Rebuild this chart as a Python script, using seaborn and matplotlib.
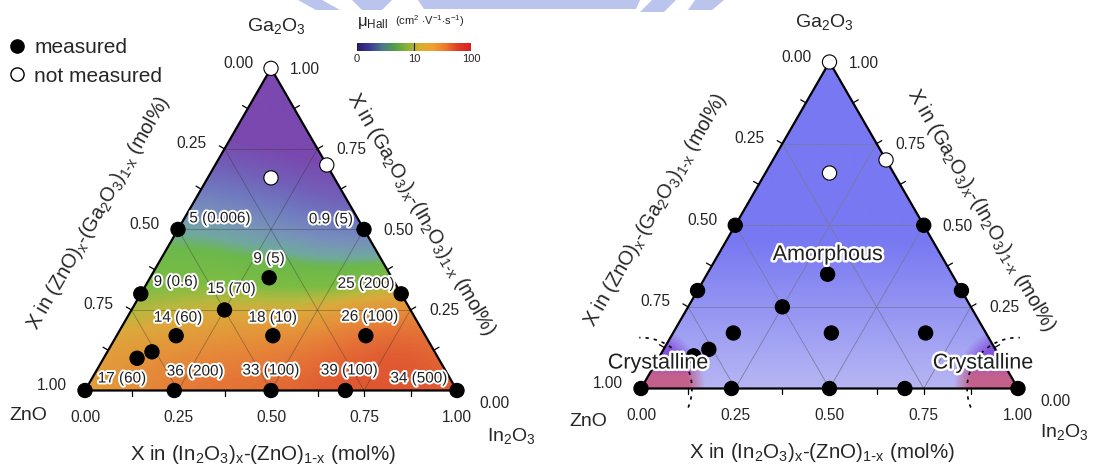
import numpy as np
import pandas as pd
import matplotlib
matplotlib.use("Agg")
import matplotlib.pyplot as plt
import matplotlib.patheffects as pe
from matplotlib.colors import LinearSegmentedColormap, Normalize, to_rgb
from matplotlib.patches import Polygon
from matplotlib.lines import Line2D
import seaborn as sns

sns.set_theme(style="white")
plt.rcParams["font.family"] = ["Liberation Sans", "DejaVu Sans"]
plt.rcParams["mathtext.default"] = "regular"

# compositions (mole fractions), ZnO = 1 - In2O3 - Ga2O3
meas_in = [0.00, 0.50, 0.32, 0.00, 0.70, 0.25, 0.16, 0.42, 0.67, 0.12, 0.09, 0.00, 0.24, 0.50, 0.70, 1.00]
meas_ga = [0.50, 0.50, 0.35, 0.30, 0.30, 0.25, 0.17, 0.17, 0.17, 0.12, 0.10, 0.00, 0.00, 0.00, 0.00, 0.00]
# Hall mobility (cm2/Vs) and value in brackets, None = no label
mobility = [5, 0.9, 9, 9, 25, 15, 14, 18, 26, None, None, 17, 36, 33, 39, 34]
bracket = ["0.006", "5", "5", "0.6", "200", "70", "60", "10", "100", None, None, "60", "200", "100", "100", "500"]

unmeas_in = [0.00, 0.17, 0.30]
unmeas_ga = [1.00, 0.66, 0.70]

tick_vals = [0.00, 0.25, 0.50, 0.75, 1.00]
cbar_ticks = ["0", "10", "100"]

W, H = 1093, 465
S3 = np.sqrt(3) / 2
PT = 0.72  # points per pixel at dpi 100


def to_xy(a_in, a_ga):
    a_in = np.asarray(a_in, float)
    a_ga = np.asarray(a_ga, float)
    return a_in + a_ga / 2, a_ga * S3


def setup(ax, ox, oy, side, x0, x1):
    ax.set_position([x0 / W, 0, (x1 - x0) / W, 1])
    ax.set_xlim((x0 - ox) / side, (x1 - ox) / side)
    ax.set_ylim((oy - H) / side, oy / side)
    ax.axis("off")


def px(dx, dy):
    # pixel offset (y down) -> offset points (y up)
    return (dx * PT, -dy * PT)


def frame(ax, side, grid_color, grid_alpha):
    for f in [0.25, 0.5, 0.75]:
        for a, b in [((0, f), (1 - f, f)), ((f, 0), (f, 1 - f)), ((0, 1 - f), (1 - f, 0))]:
            x, y = to_xy([a[0], b[0]], [a[1], b[1]])
            ax.plot(x, y, color=grid_color, lw=0.7, alpha=grid_alpha, zorder=2)
    tx, ty = to_xy([0, 1, 0, 0], [0, 0, 1, 0])
    ax.plot(tx, ty, color="black", lw=1.6, zorder=3, solid_joinstyle="miter")
    L = 6 / side
    for f in np.arange(0.125, 1.0, 0.125):
        for (qx, qy), (nx, ny) in [
            (to_xy(f, 0), (0, -1)),
            (to_xy(0, f), (-S3, 0.5)),
            (to_xy(1 - f, f), (S3, 0.5)),
        ]:
            ax.plot([qx, qx + nx * L], [qy, qy + ny * L], color="black", lw=0.9, zorder=3)


def tick_labels(ax, ga_off, zn_off, in_off):
    kw = dict(textcoords="offset points", fontsize=11.2, va="center")
    for v in tick_vals:
        ax.annotate(f"{v:.2f}", to_xy(v, 0), xytext=px(0, 27), ha="center", **kw)
        ax.annotate(f"{v:.2f}", to_xy(0, 1 - v), xytext=px(-18, -5), ha="right", **kw)
        off = px(22, 13) if v == 0 else px(19, 1)
        ax.annotate(f"{v:.2f}", to_xy(1 - v, v), xytext=off, ha="left", **kw)
    kw2 = dict(textcoords="offset points", fontsize=14, ha="center", va="center")
    ax.annotate(r"Ga$_2$O$_3$", to_xy(0, 1), xytext=px(*ga_off), **kw2)
    ax.annotate("ZnO", to_xy(0, 0), xytext=px(*zn_off), **kw2)
    ax.annotate(r"In$_2$O$_3$", to_xy(1, 0), xytext=px(*in_off), **kw2)
    kw3 = dict(ha="center", va="center", rotation_mode="anchor", textcoords="offset points")
    ax.annotate(r"X in (In$_2$O$_3$)$_x$-(ZnO)$_{1\text{-}x}$ (mol%)", (0.5, 0),
                xytext=px(-8, 64), fontsize=14.8, **kw3)
    ax.annotate(r"X in (ZnO)$_x$-(Ga$_2$O$_3$)$_{1\text{-}x}$ (mol%)", to_xy(0, 0.43),
                xytext=px(-0.866 * 77, -0.5 * 77), rotation=60, fontsize=14.2, **kw3)
    ax.annotate(r"X in (Ga$_2$O$_3$)$_x$-(In$_2$O$_3$)$_{1\text{-}x}$ (mol%)", to_xy(0.54, 0.46),
                xytext=px(0.866 * 57, -0.5 * 57), rotation=-60, fontsize=14.2, **kw3)


def points(ax):
    rows = []
    for i, g in zip(meas_in, meas_ga):
        x, y = to_xy(i, g)
        rows.append(dict(x=x, y=y, status="measured"))
    for i, g in zip(unmeas_in, unmeas_ga):
        x, y = to_xy(i, g)
        rows.append(dict(x=x, y=y, status="not measured"))
    df = pd.DataFrame(rows)
    sns.scatterplot(data=df, x="x", y="y", hue="status",
                    palette={"measured": "black", "not measured": "white"},
                    edgecolor="black", linewidth=0.8, s=105, legend=False,
                    ax=ax, zorder=6, clip_on=False)
    ax.set_xlabel("")
    ax.set_ylabel("")


fig = plt.figure(figsize=(W / 100, H / 100), dpi=100)
axL = fig.add_axes([0, 0, 0.5, 1])
axR = fig.add_axes([0.5, 0, 0.5, 1])
setup(axL, 85, 390.5, 372, 0, 546)
setup(axR, 641, 388.5, 377, 546, W)

tri_xy = np.column_stack(to_xy([0, 1, 0], [0, 0, 1]))

# ---------- left: mobility map ----------
# field colours over log10(mu)/2 from -0.5 (extrapolated) to 1
stops = [(-0.50, "#7a48ae"), (-0.20, "#7260b8"), (0.00, "#7078c0"), (0.18, "#7890bc"),
         (0.31, "#70a8a0"), (0.38, "#6cb84c"), (0.50, "#7cbc44"), (0.56, "#b8b83e"),
         (0.60, "#dca83c"), (0.66, "#e4943a"), (0.72, "#e67a38"), (0.79, "#e05a32"),
         (1.00, "#d8402c")]
field_cmap = LinearSegmentedColormap.from_list("mu", [((v + 0.5) / 1.5, c) for v, c in stops])
bar_cmap = LinearSegmentedColormap.from_list("bar", [
    "#2c1a6e", "#3a3c96", "#4a7a8a", "#52a044", "#8cb43c", "#d8b02c", "#f0a030",
    "#ec7a28", "#e03a22", "#d82020"])

fit_in = np.array([a for a, m in zip(meas_in, mobility) if m is not None])
fit_ga = np.array([g for g, m in zip(meas_ga, mobility) if m is not None])
fit_p = np.log10([m for m in mobility if m is not None]) / 2


def design(a_in, a_ga):
    return np.stack([np.ones_like(a_in), a_in, a_ga, a_in ** 2, a_in * a_ga, a_ga ** 2], axis=-1)


coef = np.linalg.lstsq(design(fit_in, fit_ga), fit_p, rcond=None)[0]
resid = fit_p - design(fit_in, fit_ga) @ coef

gx, gy = np.meshgrid(np.linspace(0, 1, 400), np.linspace(0, S3, 350))
g_ga = gy / S3
g_in = gx - g_ga / 2
val = design(g_in, g_ga) @ coef
# smooth residual correction so the map follows the measured values
fx, fy = to_xy(fit_in, fit_ga)
d2 = (gx[..., None] - fx) ** 2 + (gy[..., None] - fy) ** 2
K = np.exp(-d2 / (2 * 0.12 ** 2))
val = val + (K @ resid) / (K.sum(axis=-1) + 0.2)

clipL = Polygon(tri_xy, closed=True, transform=axL.transData, facecolor="none", edgecolor="none")
axL.add_patch(clipL)
im = axL.imshow(val, extent=(0, 1, 0, S3), origin="lower", cmap=field_cmap,
                norm=Normalize(vmin=-0.5, vmax=1), interpolation="bilinear", zorder=1)
im.set_clip_path(clipL)
frame(axL, 372, "#303030", 0.35)
tick_labels(axL, (5, -42), (-57, 25), (54, 45))
points(axL)

lab_off = [(42, -11), (-33, -10), (0, -19), (35, -12), (-35, -10), (7, -21), (2, -18), (0, -18),
           (4, -19), None, None, (37, -12), (21, -19), (0, -20), (4, -20), (-38, -12)]
for i, g, m, b, off in zip(meas_in, meas_ga, mobility, bracket, lab_off):
    if m is None:
        continue
    axL.annotate(f"{m:g} ({b})", to_xy(i, g), xytext=px(*off),
                 textcoords="offset points", ha="center", va="center", fontsize=11, color="#202020",
                 path_effects=[pe.withStroke(linewidth=2.8, foreground="white")], zorder=7)

# colour bar
cax = fig.add_axes([357 / W, 1 - 51 / H, 114 / W, 8 / H])
cax.imshow(np.linspace(0, 1, 256)[None, :], aspect="auto", cmap=bar_cmap, extent=(0, 1, 0, 1))
for t in [0, 0.5, 1]:
    cax.axvline(t, color="#202020", lw=0.8)
cax.set_xticks([])
cax.set_yticks([])
for sp in cax.spines.values():
    sp.set_visible(False)
for t, lab in zip([357, 414, 471], cbar_ticks):
    fig.text(t / W, 1 - 59 / H, lab, fontsize=8, ha="center", va="center")
fig.text(357 / W, 1 - 23 / H, r"$\mu_{Hall}$", fontsize=12, ha="left", va="center")
fig.text(395 / W, 1 - 21 / H, r"(cm$^2$ $\cdot$V$^{-1}$$\cdot$s$^{-1}$)", fontsize=8, ha="left", va="center")

# legend
handles = [Line2D([], [], marker="o", ls="", color="black", markersize=9.5),
           Line2D([], [], marker="o", ls="", markerfacecolor="white", markeredgecolor="black", markersize=9.5)]
fig.legend(handles, ["measured", "not measured"], loc="upper left", bbox_to_anchor=(0.0, 1 - 32 / H),
           frameon=False, fontsize=15, handletextpad=0.35, labelspacing=0.45, handlelength=1.0,
           borderaxespad=0, borderpad=0.3)

# ---------- right: phase map ----------
blue_top = np.array(to_rgb("#7878f2"))
blue_low = np.array(to_rgb("#b6b6f4"))
violet = np.array(to_rgb("#8452dc"))
pink = np.array(to_rgb("#c4608c"))
t = np.clip(g_ga / 0.45, 0, 1)[..., None]
rgb = blue_low * (1 - t) + blue_top * t
for vx in [0.0, 1.0]:
    d = np.hypot(gx - vx, gy)
    w = np.clip((0.17 - d) / 0.045, 0, 1)[..., None]
    s = np.clip((g_ga - 0.035) / 0.06, 0, 1)[..., None]
    inner = pink * (1 - s) + violet * s
    rgb = rgb * (1 - w) + inner * w
clipR = Polygon(tri_xy, closed=True, transform=axR.transData, facecolor="none", edgecolor="none")
axR.add_patch(clipR)
imR = axR.imshow(rgb, extent=(0, 1, 0, S3), origin="lower", interpolation="bilinear", zorder=1)
imR.set_clip_path(clipR)
frame(axR, 377, "#7878a0", 0.8)
tick_labels(axR, (-5, -40), (-53, 33), (46, 44))
points(axR)

ang = np.radians(np.linspace(-22, 92, 60))
r = 0.135
axR.plot(r * np.cos(ang), r * np.sin(ang), color="black", lw=1.2, ls=(0, (2, 3)), zorder=4, clip_on=False)
axR.plot(1 - r * np.cos(ang), r * np.sin(ang), color="black", lw=1.2, ls=(0, (2, 3)), zorder=4, clip_on=False)

outl = [pe.withStroke(linewidth=3.5, foreground="white")]
axR.text(*to_xy(0.29, 0.41), "Amorphous", fontsize=15.5, ha="center", va="center", color="#202020",
         path_effects=outl, zorder=8)
axR.text(*to_xy(0.006, 0.078), "Crystalline", fontsize=15.5, ha="center", va="center", color="#202020",
         path_effects=outl, zorder=8)
axR.text(*to_xy(0.868, 0.078), "Crystalline", fontsize=15.5, ha="center", va="center", color="#202020",
         path_effects=outl, zorder=8)

# faint banner remnant along the top edge
for poly in [[(298, 0), (322, 0), (340, 10), (316, 10)], [(352, 0), (392, 0), (382, 10), (362, 10)],
             [(418, 0), (640, 0), (636, 9), (424, 9)], [(652, 0), (676, 0), (664, 12), (640, 12)],
             [(695, 0), (724, 0), (712, 10), (688, 10)]]:
    fig.add_artist(Polygon([(qx / W, 1 - qy / H) for qx, qy in poly], closed=True,
                           transform=fig.transFigure, facecolor="#bac4ec", edgecolor="none"))

fig.savefig("out.png", dpi=100)
